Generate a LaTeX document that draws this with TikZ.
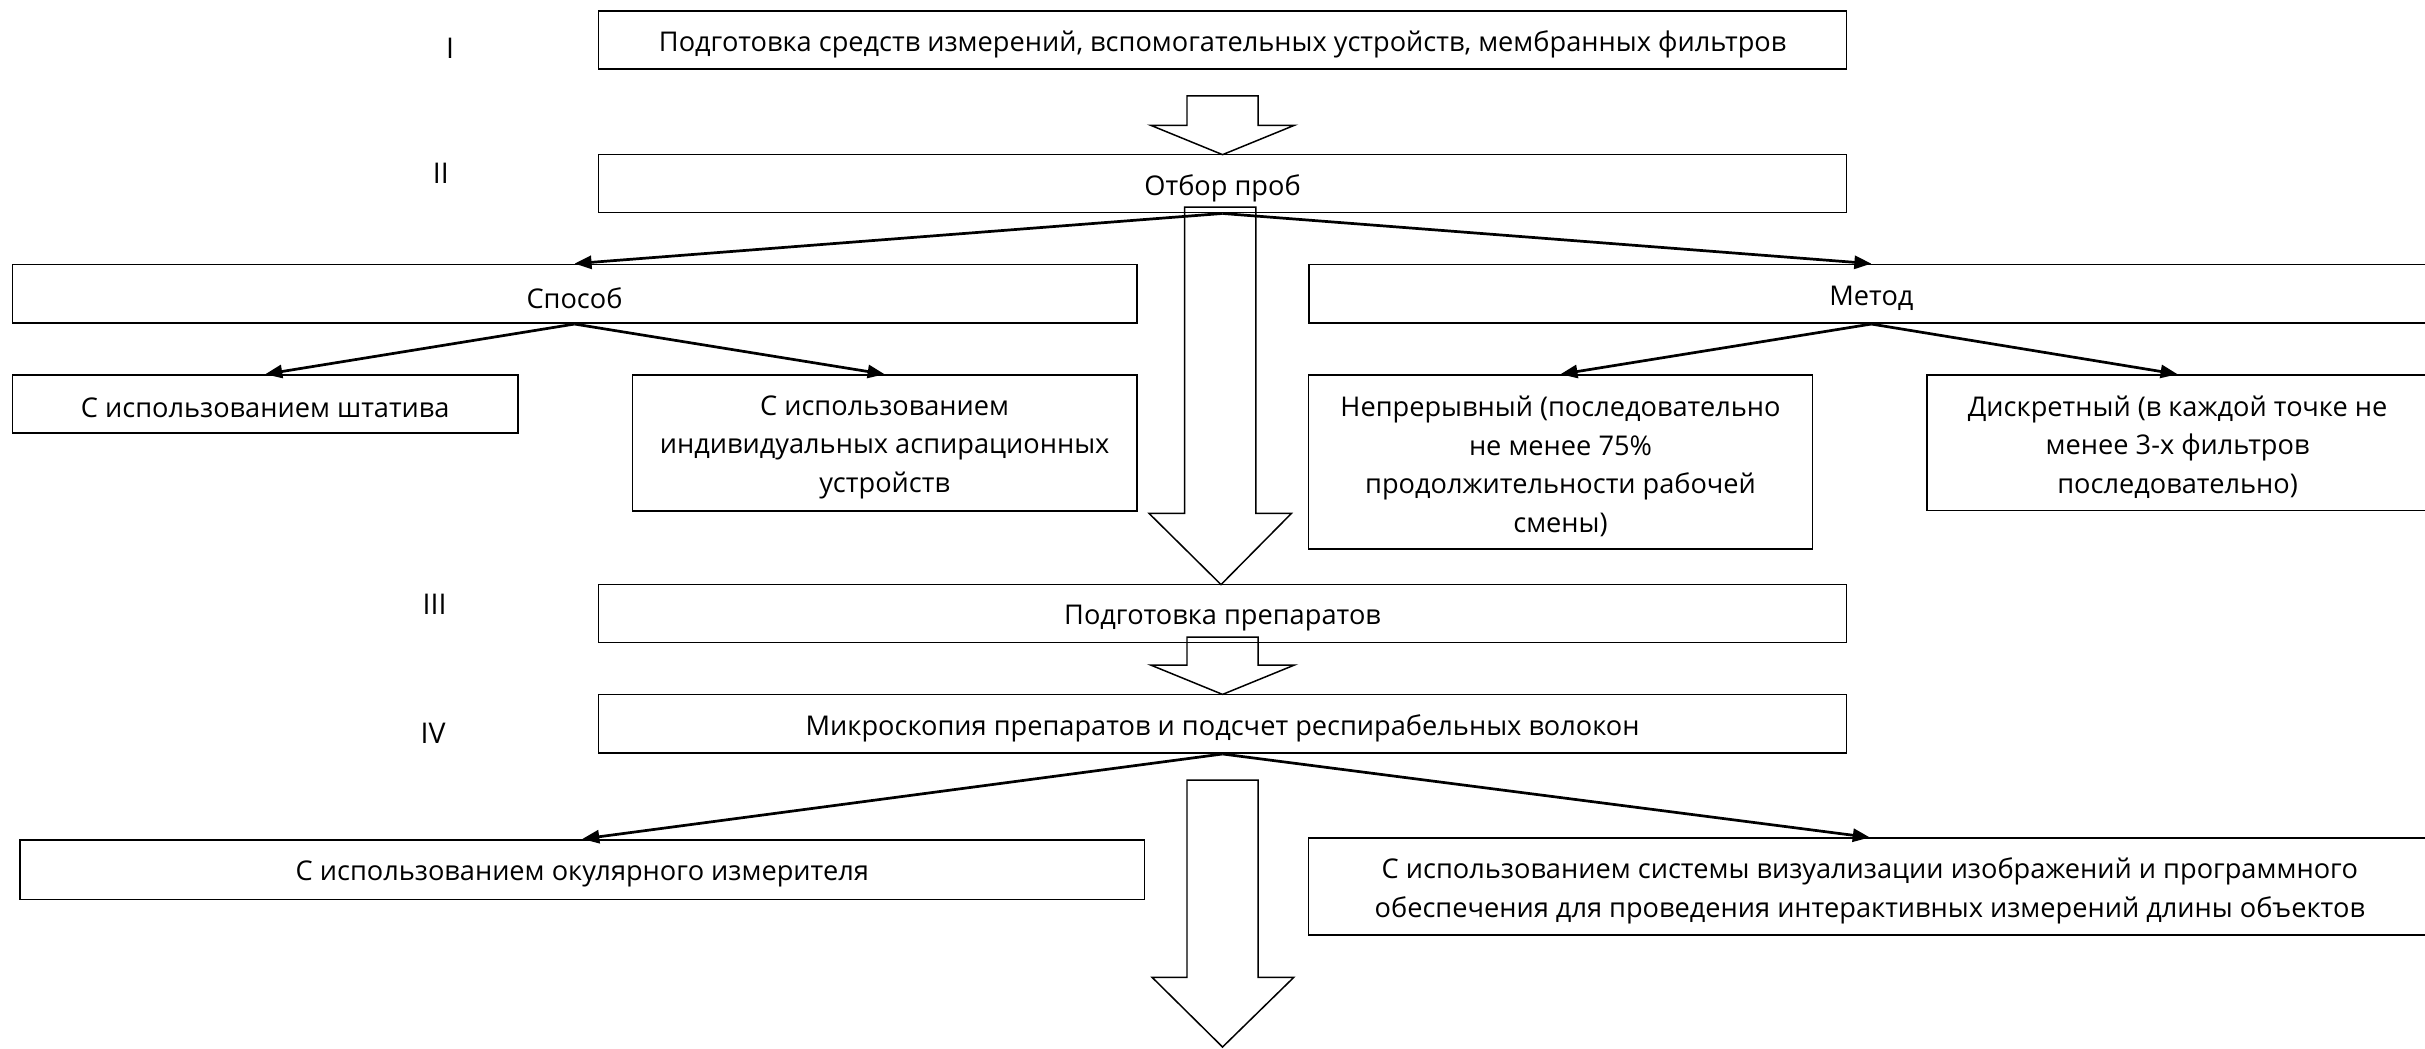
\documentclass[tikz,border=0pt]{standalone}
\usepackage{fontspec}
\setmainfont{Open Sans}
\usetikzlibrary{arrows.meta}
\begin{document}
\begin{tikzpicture}[x=0.2mm,y=-0.2mm,
  box/.style={draw, line width=0.6pt, inner sep=0pt},
  txt/.style={inner sep=0pt, align=center, yshift=-0.55mm, font=\fontsize{10}{14.2}\selectfont},
  t/.style={label={[txt]center:{#1}}},
  wide/.style={minimum width=161.4mm},
  half/.style={minimum width=145.4mm},
  small/.style={minimum width=65.2mm},
  lbl/.style={font=\fontsize{10.5}{12}\selectfont},
  conn/.style={line width=1pt, -{Triangle[length=2.2mm,width=1.7mm]}},
  barrow/.style={draw, line width=0.55pt, line join=miter}]
\useasboundingbox (0,0) rectangle (1568,678);
% main stages
\node[box, wide, minimum height=7.5mm, t={Подготовка средств измерений, вспомогательных устройств, мембранных фильтров}] (s1) at (790.5,25.75) {};
\node[box, wide, minimum height=7.5mm, t={Отбор проб}] (s2) at (790.5,118.75) {};
\node[box, wide, minimum height=7.5mm, t={Подготовка препаратов}] (s3) at (790.5,396.75) {};
\node[box, wide, minimum height=7.6mm, t={Микроскопия препаратов и подсчет респирабельных волокон}] (s4) at (790.5,468) {};
% stage labels
\node[lbl] (l1) at (291,31) {I};
\node[lbl] (l2) at (285,112) {II};
\node[lbl] (l3) at (281,391) {III};
\node[lbl] (l4) at (280,474) {IV};
% second level
\node[box, half, minimum height=7.6mm, t={Способ}] (sp) at (371.5,190) {};
\node[box, half, minimum height=7.6mm, t={Метод}] (me) at (1210,190) {};
\node[box, small, minimum width=65.4mm, minimum height=7.5mm, t={С использованием штатива}] (sht) at (171.5,261.25) {};
\node[box, small, minimum height=17.6mm, t={С использованием\\индивидуальных аспирационных\\устройств}] (ind) at (572,286.5) {};
\node[box, small, minimum height=22.5mm, t={Непрерывный (последовательно\\не менее 75\%\\продолжительности рабочей\\смены)}] (nep) at (1009,298.75) {};
\node[box, small, minimum width=64.8mm, minimum height=17.5mm, t={Дискретный (в каждой точке не\\менее 3-х фильтров\\последовательно)}] (dis) at (1408,286.25) {};
\node[box, half, minimum height=7.7mm, t={С использованием окулярного измерителя}] (ok) at (376.5,562.25) {};
\node[box, half, minimum width=145.2mm, minimum height=12.5mm, t={С использованием системы визуализации изображений и программного\\обеспечения для проведения интерактивных измерений длины объектов}] (viz) at (1209,573.25) {};
% connectors
\draw[conn] (s2.south) -- (sp.north);
\draw[conn] (s2.south) -- (me.north);
\draw[conn] (sp.south) -- (sht.north);
\draw[conn] (sp.south) -- (ind.north);
\draw[conn] (me.south) -- (nep.north);
\draw[conn] (me.south) -- (dis.north);
\draw[conn] (s4.south) -- (ok.north);
\draw[conn] (s4.south) -- (viz.north);
% block arrows
\draw[barrow] (767.5,62) -- (813.5,62) -- (813.5,81) -- (837,81) -- (790.5,100) -- (744,81) -- (767.5,81) -- cycle;
\draw[barrow] (766,134) -- (812,134) -- (812,332) -- (835,332) -- (789.5,378) -- (743,332) -- (766,332) -- cycle;
\draw[barrow] (767.5,412) -- (813.5,412) -- (813.5,430) -- (837,430) -- (790.5,449) -- (744,430) -- (767.5,430) -- cycle;
\draw[barrow] (767.5,504.5) -- (813.5,504.5) -- (813.5,632) -- (836.5,632) -- (790.5,677) -- (745,632) -- (767.5,632) -- cycle;
\end{tikzpicture}
\end{document}
